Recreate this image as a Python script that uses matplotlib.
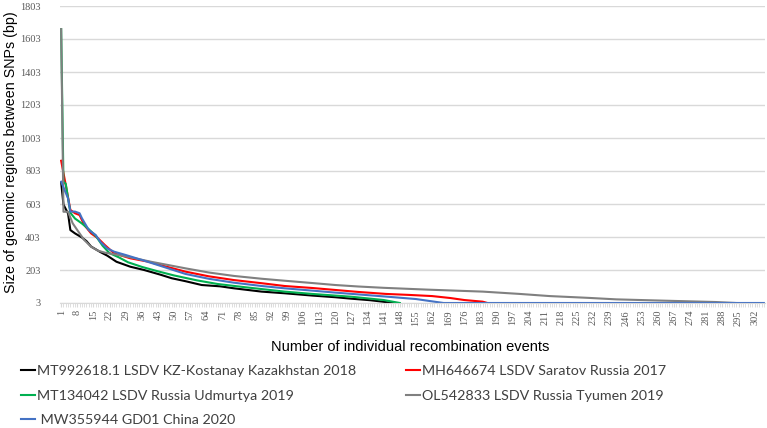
import numpy as np
import matplotlib
matplotlib.use("Agg")
import matplotlib.pyplot as plt

# values (category index -> size in bp)
black_x = [1, 2, 4, 5, 7, 10, 12, 14, 18, 21, 25, 31, 37, 44, 49, 55, 62, 70, 76, 88, 98, 110, 120, 127, 135, 140, 145]
black_y = [735, 600, 545, 445, 425, 400, 378, 345, 312, 290, 253, 223, 203, 175, 153, 135, 112, 104, 92, 72, 62, 48, 38, 29, 20, 12, 3]

red_x = [1, 3, 5, 7, 9, 11, 14, 17, 20, 24, 31, 39, 44, 55, 65, 76, 88, 98, 110, 120, 130, 142, 152, 162, 170, 176, 184, 186]
red_y = [865, 718, 567, 547, 536, 476, 425, 395, 354, 304, 274, 253, 233, 193, 165, 142, 123, 106, 94, 82, 70, 58, 52, 45, 33, 21, 11, 3]

green_x = [1, 2, 3, 5, 7, 10, 13, 16, 19, 22, 26, 30, 36, 43, 50, 60, 69, 80, 98, 110, 127, 141, 148]
green_y = [1663, 738, 725, 550, 515, 485, 450, 410, 350, 305, 280, 250, 222, 195, 170, 140, 118, 100, 72, 58, 41, 21, 3]

gray_x = [1, 2, 4, 6, 8, 11, 14, 17, 20, 26, 33, 40, 55, 65, 76, 88, 98, 110, 120, 130, 141, 160, 184, 200, 213, 230, 242, 263, 285, 294]
gray_y = [1663, 556, 556, 486, 445, 385, 344, 320, 308, 294, 274, 253, 213, 188, 167, 150, 138, 124, 112, 103, 95, 84, 72, 58, 45, 34, 25, 17, 9, 3]

blue_x = [1, 4, 5, 7, 9, 10, 13, 16, 18, 21, 24, 29, 36, 43, 55, 65, 76, 88, 98, 110, 120, 130, 141, 155, 163, 167, 306]
blue_y = [738, 637, 557, 557, 547, 517, 445, 415, 374, 334, 314, 294, 264, 233, 179, 150, 126, 106, 92, 78, 66, 55, 43, 27, 11, 3, 3]

labels = ["MT992618.1 LSDV KZ-Kostanay Kazakhstan 2018",
          "MH646674 LSDV Saratov Russia 2017",
          "MT134042 LSDV Russia Udmurtya 2019",
          "OL542833 LSDV Russia Tyumen 2019",
          " MW355944 GD01 China 2020"]

n_cat = 306
yticks = np.arange(3, 1804, 200)
xticks = np.arange(1, 303, 7)

fig = plt.figure(figsize=(7.67, 4.28), dpi=100)
ax = fig.add_axes([60/767, 1-303/428, 705/767, 297/428])

l_black, = ax.plot(black_x, black_y, color="black", lw=1.5)
l_red, = ax.plot(red_x, red_y, color="#ff0000", lw=1.5)
l_green, = ax.plot(green_x, green_y, color="#00b050", lw=1.5)
l_gray, = ax.plot(gray_x, gray_y, color="#808080", lw=1.5)
l_blue, = ax.plot(blue_x, blue_y, color="#4472c4", lw=1.5)

ax.set_xlim(0.5, n_cat + 0.5)
ax.set_ylim(3, 1803)
ax.set_yticks(yticks)
ax.set_xticks(xticks)
ax.set_xticks(np.arange(1, n_cat + 1), minor=True)
ax.set_xticklabels([str(t) for t in xticks], rotation=90,
                   family="Liberation Serif", fontsize=7.5, color="#595959")
ax.set_yticklabels([str(t) for t in yticks],
                   family="Liberation Serif", fontsize=7.5, color="#595959")
ax.tick_params(axis="y", length=0, pad=14)
ax.tick_params(axis="x", which="both", length=3, color="#d9d9d9", pad=2)
ax.grid(axis="y", color="#d9d9d9", lw=1)
ax.set_axisbelow(True)
for s in ["top", "right", "left"]:
    ax.spines[s].set_visible(False)
ax.spines["bottom"].set_color("#d9d9d9")

fig.text(11/767, 1-152/428, "Size of genomic regions between SNPs (bp)", rotation=90,
         ha="center", va="center", family="Liberation Sans", fontsize=10.3)
fig.text(410/767, 1-347/428, "Number of individual recombination events",
         ha="center", va="center", family="Liberation Sans", fontsize=10.5)

leg = fig.legend([l_black, l_green, l_blue, l_red, l_gray],
                 [labels[0], labels[2], labels[4], labels[1], labels[3]],
                 ncol=2, loc="upper left", bbox_to_anchor=(8/767, 1-352/428),
                 frameon=False, handlelength=1.0, handletextpad=0.1,
                 columnspacing=3.5, labelspacing=0.89,
                 prop={"family": "Lato", "size": 10.3})
for t in leg.get_texts():
    t.set_color("#404040")

fig.savefig("out.png", dpi=100)
